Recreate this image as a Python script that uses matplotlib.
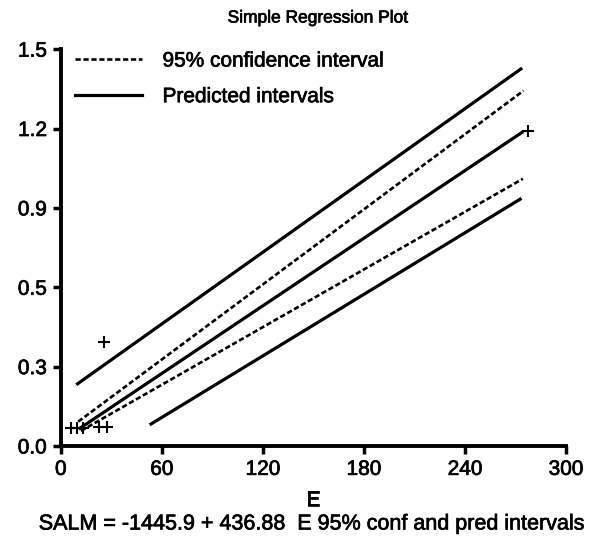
import matplotlib.pyplot as plt
import matplotlib.patheffects as pe
import numpy as np

plt.rcParams['font.family'] = ['Liberation Sans', 'DejaVu Sans']

# observed data points
obs_x = [5.9, 9.7, 13.3, 22.4, 27.5, 25.7, 277.5]
obs_y = [0.067, 0.067, 0.067, 0.073, 0.073, 0.392, 1.19]

# fitted line
fit_x = [11.3, 273.7]
fit_y = [0.067, 1.185]

# 95% confidence band (upper / lower)
ci_up_x = [10.3, 274.7]
ci_up_y = [0.092, 1.343]
ci_lo_x = [11.9, 274.3]
ci_lo_y = [0.057, 1.010]

# prediction band (upper / lower)
pi_up_x = [9.9, 273.1]
pi_up_y = [0.235, 1.425]
pi_lo_x = [53.5, 272.7]
pi_lo_y = [0.083, 0.933]

xticks = [0, 60, 120, 180, 240, 300]
yticks = [0.0, 0.3, 0.6, 0.9, 1.2, 1.5]
ytick_labels = ['0.0', '0.3', '0.5', '0.9', '1.2', '1.5']

heavy = [pe.withStroke(linewidth=0.5, foreground='black')]

fig = plt.figure(figsize=(5.91, 5.37), dpi=100)
ax = fig.add_axes([0.103, 0.1695, 0.855, 0.739])

lw = 2.3
ax.plot(ci_up_x, ci_up_y, color='black', lw=1.9, ls=(0, (2, 1)),
        label='95% confidence interval')
ax.plot(ci_lo_x, ci_lo_y, color='black', lw=1.9, ls=(0, (2, 1)))
ax.plot(pi_up_x, pi_up_y, color='black', lw=lw, label='Predicted intervals')
ax.plot(pi_lo_x, pi_lo_y, color='black', lw=lw)
ax.plot(fit_x, fit_y, color='black', lw=lw)
ax.plot(obs_x, obs_y, ls='none', marker='+', color='black', ms=9, mew=1.5)

ax.set_xlim(0, 300)
ax.set_ylim(0, 1.5)
ax.set_xticks(xticks)
ax.set_yticks(yticks)
ax.set_yticklabels(ytick_labels)
ax.tick_params(labelsize=15, width=2.5, length=6, direction='out', pad=4)
for lab in ax.get_xticklabels() + ax.get_yticklabels():
    lab.set_path_effects(heavy)

for side in ['top', 'right']:
    ax.spines[side].set_visible(False)
for side in ['left', 'bottom']:
    ax.spines[side].set_linewidth(2.8)

fig.text(318 / 591, 1 - 18 / 537, 'Simple Regression Plot', fontsize=12.5,
         ha='center', va='center', path_effects=heavy)
fig.text(313 / 591, 1 - 500 / 537, 'E', fontsize=15,
         ha='center', va='center', path_effects=heavy)
fig.text(311 / 591, 1 - 524 / 537,
         'SALM = -1445.9 + 436.88  E 95% conf and pred intervals',
         fontsize=15.5, ha='center', va='center', path_effects=heavy)

leg = ax.legend(loc='upper left', bbox_to_anchor=(0.028, 0.994), frameon=False,
                fontsize=15, handlelength=3.2, labelspacing=0.8,
                handletextpad=1.0, borderaxespad=0, borderpad=0)
for t in leg.get_texts():
    t.set_path_effects(heavy)

plt.savefig('out.png', dpi=100)
